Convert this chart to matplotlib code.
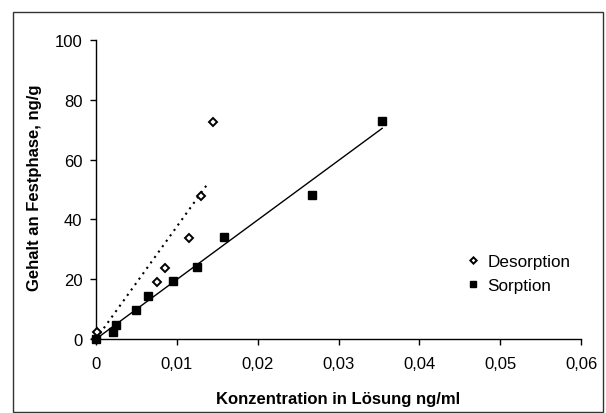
import numpy as np
import matplotlib
matplotlib.use('Agg')
import matplotlib.pyplot as plt
from matplotlib.ticker import FuncFormatter
from matplotlib.patches import Rectangle

plt.rcParams['font.family'] = ['Liberation Sans', 'DejaVu Sans']

# Desorption / Sorption isotherms
des_x = [0.0, 0.00016, 0.00751, 0.00854, 0.0115, 0.0130, 0.01452]
des_y = [0.0, 2.4, 19.1, 23.9, 33.7, 47.8, 72.6]
sor_x = [0.0, 0.00214, 0.00248, 0.00495, 0.00648, 0.00949, 0.01254, 0.01584, 0.0267, 0.0354]
sor_y = [0.0, 2.2, 4.7, 9.7, 14.4, 19.4, 24.2, 34.0, 48.3, 73.0]

x_ticks = [0, 0.01, 0.02, 0.03, 0.04, 0.05, 0.06]
y_ticks = [0, 20, 40, 60, 80, 100]
x_title = 'Konzentration in Lösung ng/ml'
y_title = 'Gehalt an Festphase, ng/g'


def origin_fit(x, y):
    # linear trend line forced through zero (like the Excel trendline)
    x = np.asarray(x)
    y = np.asarray(y)
    return (x * y).sum() / (x * x).sum()


fig = plt.figure(figsize=(6.06, 4.14), dpi=100)
ax = fig.add_axes([96 / 606, 1 - 340 / 414, 485 / 606, 299 / 414])

# outer chart border
fig.patches.append(Rectangle((13 / 606, 1 / 414), 590 / 606, 400 / 414,
                             transform=fig.transFigure, fill=False,
                             edgecolor='#333333', linewidth=1.0))

k_des = origin_fit(des_x, des_y)
k_sor = origin_fit(sor_x, sor_y)
xd = np.array([0, 0.0138])
xs = np.array([0, max(sor_x)])
ax.plot(xd, k_des * xd, color='black', linestyle=(0, (1, 2.2)), linewidth=1.5, clip_on=False)
ax.plot(xs, k_sor * xs, color='black', linewidth=1.0, clip_on=False)

ax.plot(des_x, des_y, linestyle='none', marker='D', ms=4.3, mfc='white', mec='black',
        mew=1.4, label='Desorption', clip_on=False, zorder=4)
ax.plot(sor_x, sor_y, linestyle='none', marker='s', ms=6, mfc='black', mec='black',
        label='Sorption', clip_on=False, zorder=5)

ax.set_xlim(0, 0.06)
ax.set_ylim(0, 100)
ax.set_xticks(x_ticks)
ax.set_yticks(y_ticks)
ax.xaxis.set_major_formatter(FuncFormatter(lambda v, p: ('%g' % round(v, 4)).replace('.', ',')))
ax.tick_params(axis='x', direction='out', length=4.3, width=1, pad=8, labelsize=12)
ax.tick_params(axis='y', direction='out', length=4.3, width=1, pad=5.5, labelsize=12)
for s in ['top', 'right']:
    ax.spines[s].set_visible(False)
for s in ['left', 'bottom']:
    ax.spines[s].set_linewidth(1.0)
    ax.spines[s].set_color('black')

fig.text(338 / 606, 1 - 400 / 414, x_title, ha='center', va='center',
         fontsize=12, fontweight='bold')
fig.text(35 / 606, 1 - 188 / 414, y_title, ha='center', va='center',
         rotation=90, fontsize=12, fontweight='bold')

leg = ax.legend(loc='upper left', bbox_to_anchor=(466 / 606, 1 - 255 / 414),
                bbox_transform=fig.transFigure, frameon=False, fontsize=12.3,
                handlelength=0.8, handletextpad=0.45, labelspacing=0.55,
                borderpad=0, borderaxespad=0, markerscale=0.75)

fig.savefig('out.png', dpi=100)
